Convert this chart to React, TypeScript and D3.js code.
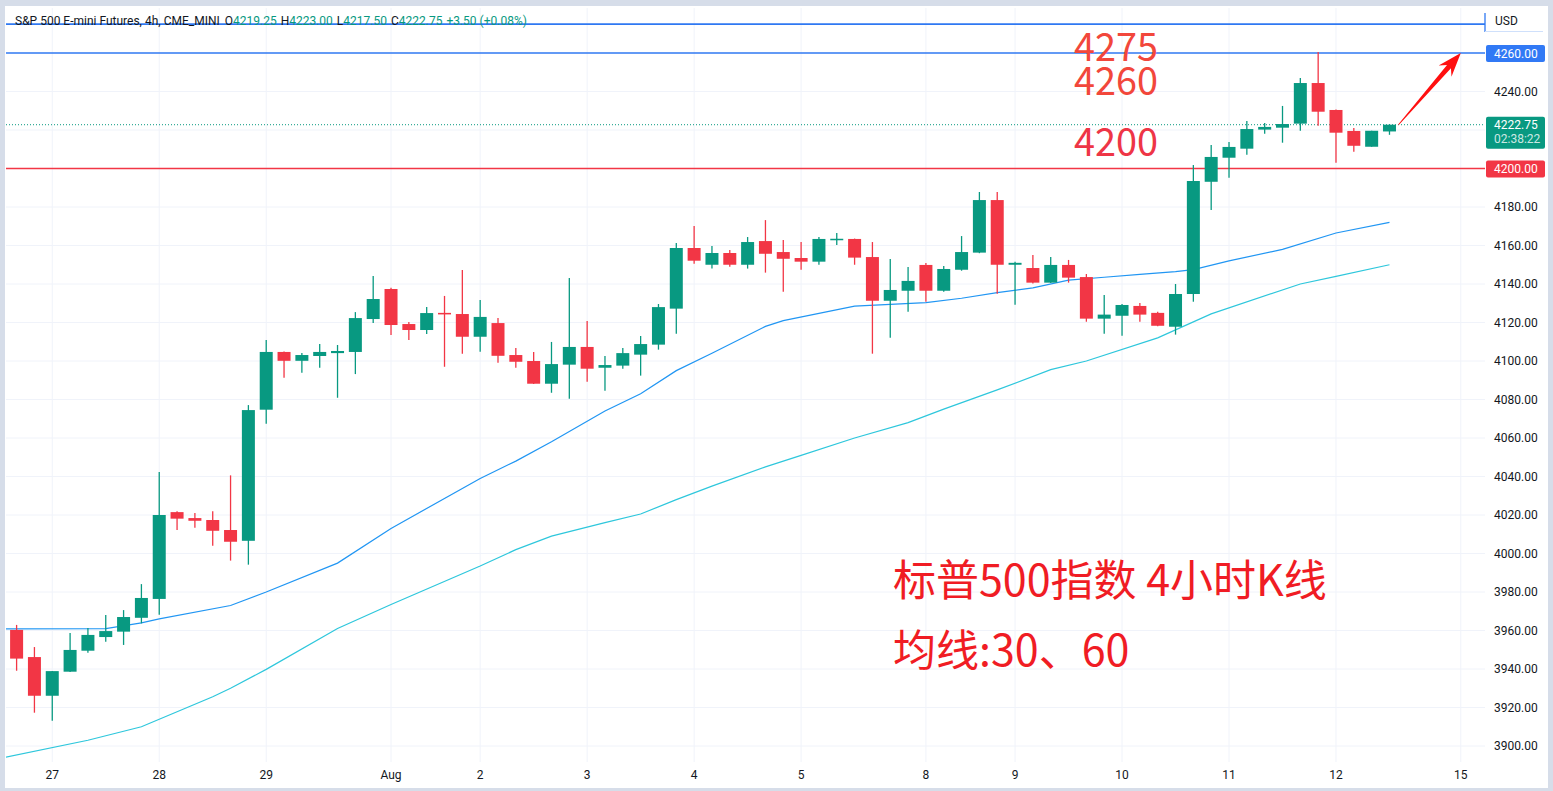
import React from 'react';
import * as d3 from 'd3';

// 4h candles, S&P 500 E-mini
const opens = [
  3960.3, 3946.2, 3926.1, 3938.6, 3949.5, 3956.6, 3959.4, 3966.6, 3976.4, 4021.5,
  4018.4, 4017.4, 4012.2, 4006.6, 4074.7, 4104.7, 4100.1, 4102.6, 4104.1, 4104.7,
  4121.8, 4137.4, 4119.2, 4116.1, 4125.0, 4124.4, 4112.6, 4119.7, 4103.1, 4100.0,
  4088.2, 4098.1, 4107.3, 4096.5, 4097.6, 4103.3, 4108.5, 4127.2, 4158.7, 4150.0,
  4156.1, 4150.0, 4162.3, 4156.6, 4153.5, 4151.6, 4163.0, 4163.4, 4154.0, 4131.3,
  4136.5, 4149.9, 4136.5, 4147.4, 4156.3, 4183.6, 4150.0, 4148.3, 4140.7, 4149.9,
  4143.6, 4122.0, 4123.5, 4128.6, 4125.0, 4117.8, 4134.8, 4193.1, 4205.6, 4210.3,
  4220.2, 4221.2, 4223.3, 4244.4, 4230.4, 4219.5, 4211.3, 4219.25,
];
const highs = [
  3962.9, 3951.4, 3939.0, 3958.7, 3961.3, 3968.0, 3970.6, 3984.1, 4042.3, 4022.0,
  4021.0, 4022.0, 4040.6, 4077.1, 4110.9, 4104.9, 4104.1, 4108.8, 4108.3, 4125.4,
  4144.2, 4138.0, 4120.3, 4128.0, 4133.8, 4147.3, 4131.7, 4122.3, 4106.7, 4104.7,
  4109.9, 4143.1, 4120.8, 4102.6, 4106.7, 4113.0, 4129.6, 4161.3, 4170.1, 4159.7,
  4157.7, 4164.4, 4173.2, 4162.9, 4161.8, 4164.4, 4166.5, 4163.6, 4161.8, 4153.0,
  4148.8, 4150.9, 4149.3, 4164.9, 4187.8, 4187.8, 4151.5, 4155.1, 4154.0, 4152.5,
  4145.2, 4134.3, 4129.6, 4130.1, 4125.6, 4140.0, 4201.8, 4212.2, 4213.8, 4224.7,
  4223.6, 4232.5, 4247.0, 4260.5, 4230.6, 4221.0, 4219.6, 4223.0,
];
const lows = [
  3939.1, 3917.3, 3913.1, 3938.5, 3948.5, 3954.2, 3952.5, 3963.7, 3968.2, 4012.2,
  4013.4, 4004.0, 3996.3, 3994.2, 4067.4, 4091.3, 4093.9, 4096.5, 4080.9, 4093.2,
  4119.7, 4113.5, 4110.9, 4114.0, 4097.0, 4103.8, 4104.8, 4099.1, 4096.5, 4088.0,
  4083.5, 4080.4, 4089.2, 4084.6, 4096.0, 4092.4, 4105.9, 4114.2, 4150.5, 4148.0,
  4149.0, 4148.0, 4145.9, 4136.0, 4147.4, 4150.0, 4160.3, 4150.0, 4103.8, 4112.1,
  4125.6, 4130.8, 4136.0, 4146.9, 4156.0, 4135.0, 4129.2, 4140.2, 4140.5, 4140.7,
  4120.4, 4114.2, 4113.1, 4120.4, 4118.0, 4113.7, 4130.8, 4178.4, 4195.2, 4207.2,
  4218.1, 4213.4, 4219.6, 4222.2, 4203.0, 4208.7, 4211.3, 4217.5,
];
const closes = [
  3945.4, 3926.1, 3938.9, 3949.9, 3957.7, 3959.7, 3967.0, 3976.9, 4020.0, 4018.1,
  4017.0, 4011.8, 4006.1, 4074.5, 4104.7, 4100.1, 4103.1, 4104.7, 4105.2, 4122.3,
  4132.2, 4118.7, 4116.1, 4124.9, 4124.2, 4112.6, 4122.9, 4102.7, 4099.6, 4088.2,
  4098.4, 4107.3, 4096.0, 4097.9, 4104.1, 4108.8, 4128.0, 4158.7, 4152.1, 4156.1,
  4150.0, 4161.8, 4155.7, 4153.1, 4151.6, 4163.4, 4163.5, 4153.7, 4131.3, 4136.9,
  4141.6, 4136.5, 4147.8, 4156.6, 4183.6, 4150.0, 4151.0, 4140.7, 4149.9, 4143.3,
  4122.0, 4124.1, 4129.1, 4124.1, 4118.3, 4134.8, 4193.5, 4206.0, 4211.2, 4220.5,
  4221.6, 4223.1, 4244.4, 4229.5, 4218.6, 4211.8, 4219.6, 4222.75,
];

// moving averages read at candle indices
const ma30Index = [-1, 5, 7, 8, 12, 14, 18, 21, 26, 28, 30, 33, 35, 37, 39, 42, 43, 47, 51, 53, 55, 57, 59, 61, 63, 65, 66, 68, 71, 74, 77];
const ma30Value = [3960.8, 3961, 3964, 3966, 3973, 3980, 3995, 4013, 4039, 4048, 4058, 4074, 4083, 4095, 4104, 4118, 4121, 4128.5, 4130.3, 4132.6, 4135.5, 4138, 4142, 4143.5, 4145, 4146.4, 4147.5, 4152, 4158, 4166.5, 4172];
const ma60Index = [-1, 4, 7, 11, 12, 14, 18, 21, 26, 28, 30, 33, 35, 37, 39, 42, 44, 47, 50, 52, 55, 58, 60, 64, 67, 72, 74, 77];
const ma60Value = [3893.5, 3903, 3910, 3925.6, 3930, 3939.8, 3961, 3973.5, 3993.5, 4002, 4009, 4016, 4020.5, 4028, 4035, 4045, 4051, 4060, 4068, 4075, 4085, 4095.5, 4100, 4112, 4124.5, 4140, 4144, 4150];

const dayLabels = ['27', '28', '29', 'Aug', '2', '3', '4', '5', '8', '9', '10', '11', '12', '15'];
const dayIndex = [2, 8, 14, 21, 26, 32, 38, 44, 51, 56, 62, 68, 74, 81];
const priceTicks = d3.range(3900, 4241, 20);

const levelBlue = [4275, 4260];
const levelRed = 4200;
const lastPrice = 4222.75;
const noteLevels = ['4275', '4260', '4200'];

const W = 1553;
const H = 791;
const plot = { left: 6, right: 1485, top: 8, bottom: 762 };

const UP = '#089981';
const DOWN = '#F23645';
const BLUE = '#2f78f2';

const App: React.FC = () => {
  const x = d3.scaleLinear().domain([0, 81]).range([16.6, 1460.8]);
  const y = d3.scaleLinear().domain([3900, 4260]).range([746, 53]);
  const bw = 13;

  const maLine = d3
    .line<[number, number]>()
    .x((d) => x(d[0]))
    .y((d) => y(d[1]));
  const ma30 = maLine(ma30Index.map((i, k) => [i, ma30Value[k]]) as [number, number][]) || '';
  const ma60 = maLine(ma60Index.map((i, k) => [i, ma60Value[k]]) as [number, number][]) || '';

  // arrow from last candle to the 4260 level
  const x0 = x(opens.length - 1) + 9;
  const y0 = y(lastPrice);
  const x1 = x(81);
  const y1 = y(4260);
  const len = Math.hypot(x1 - x0, y1 - y0);
  const ux = (x1 - x0) / len;
  const uy = (y1 - y0) / len;
  const nx = -uy;
  const ny = ux;
  const headL = 24;
  const headW = 8.5;
  const bx = x1 - ux * headL;
  const by = y1 - uy * headL;
  const notchX = x1 - ux * (headL - 6);
  const notchY = y1 - uy * (headL - 6);
  const arrow = [
    [x0 + nx * 0.4, y0 + ny * 0.4],
    [notchX + nx * 2.6, notchY + ny * 2.6],
    [bx + nx * headW, by + ny * headW],
    [x1, y1],
    [bx - nx * headW, by - ny * headW],
    [notchX - nx * 2.6, notchY - ny * 2.6],
    [x0 - nx * 0.4, y0 - ny * 0.4],
  ]
    .map((p) => p.join(','))
    .join(' ');

  const axisFont = 'Roboto, "DejaVu Sans", sans-serif';
  const cjkFont = '"Noto Sans CJK SC", "Noto Sans", sans-serif';

  // tick labels hidden behind the coloured price boxes are skipped
  const boxed = [levelRed, 4260, 4220];

  return (
    <svg width={W} height={H} style={{ position: 'absolute', left: 0, top: 0 }}>
      <defs>
        <clipPath id="plotClip">
          <rect x={plot.left} y={plot.top} width={plot.right - plot.left} height={plot.bottom - plot.top} />
        </clipPath>
      </defs>
      <rect x={0} y={0} width={W} height={H} fill="#d6dde9" />
      <rect x={5} y={6} width={1543} height={782} fill="#ffffff" />

      <g clipPath="url(#plotClip)">
        {/* grid */}
        {priceTicks.map((p) => (
          <line key={'h' + p} x1={plot.left} x2={plot.right} y1={y(p)} y2={y(p)} stroke="#f0f3fa" strokeWidth={1} />
        ))}
        {dayIndex.map((d) => (
          <line key={'v' + d} x1={x(d)} x2={x(d)} y1={plot.top} y2={plot.bottom} stroke="#f0f3fa" strokeWidth={1} />
        ))}

        {/* levels */}
        {levelBlue.map((l) => (
          <line key={'l' + l} x1={plot.left} x2={plot.right} y1={y(l)} y2={y(l)} stroke={BLUE} strokeWidth={1.6} />
        ))}
        <line x1={plot.left} x2={plot.right} y1={y(levelRed)} y2={y(levelRed)} stroke={DOWN} strokeWidth={1.6} />
        <line
          x1={plot.left}
          x2={plot.right}
          y1={y(lastPrice)}
          y2={y(lastPrice)}
          stroke={UP}
          strokeWidth={1}
          strokeDasharray="1 2"
        />

        {/* moving averages */}
        <path d={ma30} fill="none" stroke="#2196f3" strokeWidth={1.2} />
        <path d={ma60} fill="none" stroke="#2ec7dc" strokeWidth={1.2} />

        {/* candles */}
        {opens.map((o, i) => {
          const c = closes[i];
          const col = c >= o ? UP : DOWN;
          const top = y(Math.max(o, c));
          const bot = y(Math.min(o, c));
          return (
            <g key={'c' + i}>
              <line x1={x(i)} x2={x(i)} y1={y(highs[i])} y2={y(lows[i])} stroke={col} strokeWidth={1.3} />
              <rect x={x(i) - bw / 2} y={top} width={bw} height={Math.max(1.5, bot - top)} fill={col} />
            </g>
          );
        })}
      </g>

      {/* header legend */}
      <text x={15} y={25} fontFamily={axisFont} fontSize={12} fill="#131722">
        S&amp;P 500 E-mini Futures, 4h, CME_MINI
        <tspan dx={5}>O</tspan>
        <tspan fill={UP}>{opens[opens.length - 1].toFixed(2)}</tspan>
        <tspan dx={4}>H</tspan>
        <tspan fill={UP}>{highs[highs.length - 1].toFixed(2)}</tspan>
        <tspan dx={4}>L</tspan>
        <tspan fill={UP}>{lows[lows.length - 1].toFixed(2)}</tspan>
        <tspan dx={4}>C</tspan>
        <tspan fill={UP}>{closes[closes.length - 1].toFixed(2)}</tspan>
        <tspan dx={4} fill={UP}>
          +3.50 (+0.08%)
        </tspan>
      </text>

      {/* annotations */}
      <text x={1074} y={61} fontFamily={cjkFont} fontSize={39} fill="#f2473b" textLength={84} lengthAdjust="spacingAndGlyphs">
        {noteLevels[0]}
      </text>
      <text x={1074} y={95} fontFamily={cjkFont} fontSize={39} fill="#f2473b" textLength={84} lengthAdjust="spacingAndGlyphs">
        {noteLevels[1]}
      </text>
      <text x={1074} y={156} fontFamily={cjkFont} fontSize={39} fill="#ee3546" textLength={84} lengthAdjust="spacingAndGlyphs">
        {noteLevels[2]}
      </text>
      <text x={893} y={596} fontFamily={cjkFont} fontSize={43} fill="#f01c24">
        标普500指数 4小时K线
      </text>
      <text x={893} y={666} fontFamily={cjkFont} fontSize={43} fill="#f01c24">
        均线:30、60
      </text>
      <polygon points={arrow} fill="#ff1010" />

      {/* price axis */}
      <line x1={1485} x2={1485} y1={13} y2={32} stroke={BLUE} strokeWidth={1.3} />
      <line x1={1485} x2={1543} y1={31.5} y2={31.5} stroke="#cfe0fb" strokeWidth={1} />
      <text x={1495} y={25} fontFamily={axisFont} fontSize={12} fill="#131722">
        USD
      </text>
      {priceTicks
        .filter((p) => !boxed.includes(p))
        .map((p) => (
          <text key={'t' + p} x={1494} y={y(p) + 4} fontFamily={axisFont} fontSize={12} fill="#131722">
            {p.toFixed(2)}
          </text>
        ))}
      <rect x={1486} y={y(4260) - 8} width={59} height={17} rx={2} fill="#3179f5" />
      <text x={1494} y={y(4260) + 4.5} fontFamily={axisFont} fontSize={12} fill="#ffffff">
        {(4260).toFixed(2)}
      </text>
      <rect x={1486} y={y(levelRed) - 8} width={59} height={17} rx={2} fill={DOWN} />
      <text x={1494} y={y(levelRed) + 4.5} fontFamily={axisFont} fontSize={12} fill="#ffffff">
        {levelRed.toFixed(2)}
      </text>
      <rect x={1486} y={y(lastPrice) - 8} width={59} height={32} rx={2} fill={UP} />
      <text x={1494} y={y(lastPrice) + 4} fontFamily={axisFont} fontSize={12} fill="#ffffff">
        {lastPrice.toFixed(2)}
      </text>
      <text x={1494} y={y(lastPrice) + 18} fontFamily={axisFont} fontSize={12} fill="#ffffff" fillOpacity={0.8}>
        02:38:22
      </text>

      {/* time axis */}
      {dayLabels.map((d, k) => (
        <text
          key={'d' + d}
          x={x(dayIndex[k])}
          y={779}
          textAnchor="middle"
          fontFamily={axisFont}
          fontSize={12}
          fill="#131722"
        >
          {d}
        </text>
      ))}
    </svg>
  );
};

export default App;
